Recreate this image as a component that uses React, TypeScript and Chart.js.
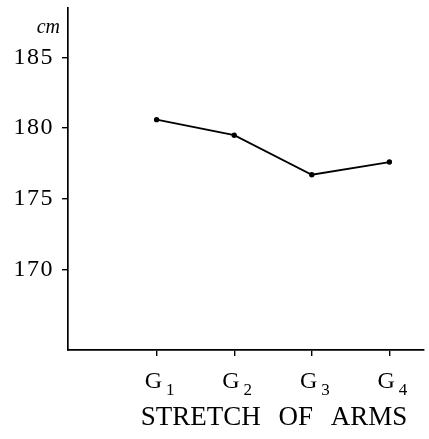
import React, { useEffect, useRef } from "react";
import { Chart, registerables } from "chart.js";

Chart.register(...registerables);

const categories = ["G", "G", "G", "G"];
const subscripts = ["1", "2", "3", "4"];
const positions = [1, 2, 3, 4];
const values = [180.6, 179.5, 176.7, 177.6];
const yTickValues = [170, 175, 180, 185];
const unitLabel = "cm";
const xTitle = "STRETCH OF ARMS";

const FONT = "'Liberation Serif', 'DejaVu Serif', serif";

const textPlugin = {
  id: "customText",
  beforeDraw(chart: any) {
    chart.ctx.letterSpacing = "1.5px";
  },
  afterDraw(chart: any) {
    const { ctx, chartArea, scales } = chart;
    ctx.save();
    ctx.letterSpacing = "0px";
    ctx.fillStyle = "#000";
    // unit label
    ctx.font = `italic 20px ${FONT}`;
    ctx.textAlign = "right";
    ctx.textBaseline = "middle";
    ctx.fillText(unitLabel, chartArea.left - 8, chartArea.top + 20);
    // x tick labels with subscripts
    ctx.textBaseline = "alphabetic";
    ctx.textAlign = "left";
    positions.forEach((p, i) => {
      const x = scales.x.getPixelForValue(p);
      ctx.font = `24px ${FONT}`;
      const gW = ctx.measureText(categories[i]).width;
      ctx.font = `17px ${FONT}`;
      const sW = ctx.measureText(subscripts[i]).width;
      const total = gW + 4 + sW;
      const start = x + 3 - total / 2;
      ctx.font = `24px ${FONT}`;
      ctx.fillText(categories[i], start, chartArea.bottom + 38);
      ctx.font = `17px ${FONT}`;
      ctx.fillText(subscripts[i], start + gW + 4, chartArea.bottom + 45);
    });
    // axis title
    ctx.font = `27px ${FONT}`;
    ctx.wordSpacing = "11px";
    ctx.textAlign = "center";
    ctx.textBaseline = "alphabetic";
    ctx.fillText(xTitle, 274, chartArea.bottom + 75);
    ctx.restore();
  },
};

export default function App() {
  const ref = useRef<HTMLCanvasElement>(null);
  useEffect(() => {
    const chart = new Chart(ref.current!, {
      type: "line",
      data: {
        datasets: [
          {
            data: positions.map((x, i) => ({ x, y: values[i] })),
            borderColor: "#000",
            backgroundColor: "#000",
            borderWidth: 1.8,
            pointRadius: 1.8,
            pointBackgroundColor: "#000",
            tension: 0,
          },
        ],
      },
      options: {
        animation: false,
        responsive: false,
        maintainAspectRatio: false,
        layout: { autoPadding: false, padding: { left: 0, top: 8, right: 5, bottom: 0 } },
        plugins: { legend: { display: false }, tooltip: { enabled: false } },
        scales: {
          x: {
            type: "linear",
            min: -0.142,
            max: 4.446,
            afterBuildTicks: (s: any) => {
              s.ticks = positions.map((v) => ({ value: v }));
            },
            afterFit: (s: any) => {
              s.height = 89;
              s.paddingLeft = 0;
              s.paddingRight = 0;
            },
            ticks: { display: false },
            grid: { drawOnChartArea: false, drawTicks: true, tickLength: 6, color: "#000", lineWidth: 1.4 },
            border: { display: true, color: "#000", width: 1.7 },
          },
          y: {
            type: "linear",
            min: 164.3,
            max: 188.5,
            afterBuildTicks: (s: any) => {
              s.ticks = yTickValues.map((v) => ({ value: v }));
            },
            afterFit: (s: any) => {
              s.width = 68;
              s.paddingTop = 0;
              s.paddingBottom = 0;
            },
            ticks: {
              color: "#000",
              font: { family: FONT, size: 24 },
              padding: 8,
            },
            grid: { drawOnChartArea: false, drawTicks: true, tickLength: 6, color: "#000", lineWidth: 1.4 },
            border: { display: true, color: "#000", width: 1.7 },
          },
        },
      },
      plugins: [textPlugin],
    });
    return () => chart.destroy();
  }, []);
  return (
    <div style={{ position: "fixed", left: 0, top: 0, width: 429, height: 439, background: "#fff" }}>
      <canvas ref={ref} width={429} height={439} style={{ width: 429, height: 439, display: "block" }} />
    </div>
  );
}
